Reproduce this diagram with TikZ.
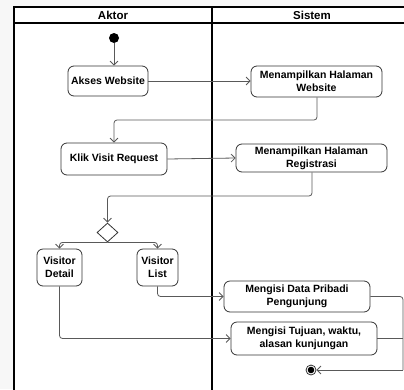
\documentclass[tikz,border=0pt]{standalone}
\usepackage{fontspec}
\setmainfont{Liberation Sans}
\usetikzlibrary{arrows.meta,shapes.geometric}
\begin{document}
\begin{tikzpicture}[x=1pt,y=-1pt,
  act/.style={draw=black!80,line width=0.8pt,rounded corners=6pt,align=center,
    font=\fontsize{10.5}{13}\selectfont\bfseries,inner sep=1pt},
  conn/.style={draw=black!65,line width=0.8pt,rounded corners=3pt},
  arr/.style={conn,-{Straight Barb[length=4pt,width=8pt,line width=0.8pt]}},
  lane/.style={draw=black,line width=1.1pt},
  head/.style={font=\fontsize{11.5}{13}\selectfont\bfseries}]
\useasboundingbox (0,0) rectangle (404,389);
\fill[black!3] (0,0) rectangle (404,389);
\clip (0,0) rectangle (404,389);
\fill[white] (14,7) rectangle (412,395);
% lanes
\draw[lane] (14,395) -- (14,7) -- (412,7) -- (412,395);
\draw[lane] (14,23) -- (412,23);
\draw[lane] (212,7) -- (212,395);
\node[head] (haktor) at (113,15.5) {Aktor};
\node[head] (hsistem) at (312,15.5) {Sistem};
% nodes
\node[circle,fill=black,minimum size=10pt,inner sep=0pt] (start) at (114,38) {};
\node[act,minimum width=80pt,minimum height=30pt] (akses) at (108,81) {Akses Website};
\node[act,minimum width=131pt,minimum height=31pt] (web) at (316.5,81.5) {Menampilkan Halaman\\Website};
\node[act,minimum width=106pt,minimum height=32pt] (klik) at (114,159) {Klik Visit Request};
\node[act,minimum width=151pt,minimum height=28pt] (reg) at (311.5,158) {Menampilkan Halaman\\Registrasi};
\node[diamond,draw=black!80,line width=0.8pt,minimum width=21pt,minimum height=19pt,inner sep=0pt] (dec) at (107.5,232.5) {};
\node[act,minimum width=45pt,minimum height=37pt] (vdet) at (59.5,267.5) {Visitor\\Detail};
\node[act,minimum width=41pt,minimum height=37pt] (vlist) at (157.5,267.5) {Visitor\\List};
\node[act,minimum width=146pt,minimum height=31pt] (data) at (297,296.5) {Mengisi Data Pribadi\\Pengunjung};
\node[act,minimum width=146pt,minimum height=33pt] (tuj) at (304,338.5) {Mengisi Tujuan, waktu,\\alasan kunjungan};
\node[circle,draw=black!80,line width=0.8pt,minimum size=10pt,inner sep=0pt] (end) at (311,370) {};
\fill[black] (end.center) circle (3.3pt);
% helper coordinates
\coordinate (c1) at (317,120);
\coordinate (c2) at (312,196);
\coordinate (m1) at (403,296.5);
\coordinate (m2) at (403,338.5);
\coordinate (m3) at (403,370);
% connectors
\draw[arr] (start) -- (start |- akses.north);
\draw[arr] (akses.east) -- (web.west |- akses.east);
\draw[arr] (web.south -| c1) -- (c1) -| (klik.north -| start);
\draw[arr] (klik.east) -- (reg.west);
\draw[arr] (reg.south -| c2) -- (c2) -| (dec.north);
\draw[arr] (dec.south) -| (vdet.north);
\draw[arr] (dec.south) -| (vlist.north);
\draw[arr] (vlist.south) |- (data.west);
\draw[arr] (vdet.south) |- (tuj.west);
\draw[conn] (data.east) -- (m1) -- (m3);
\draw[conn] (tuj.east) -- (m2);
\draw[arr] (m3) -- (end);
\end{tikzpicture}
\end{document}
